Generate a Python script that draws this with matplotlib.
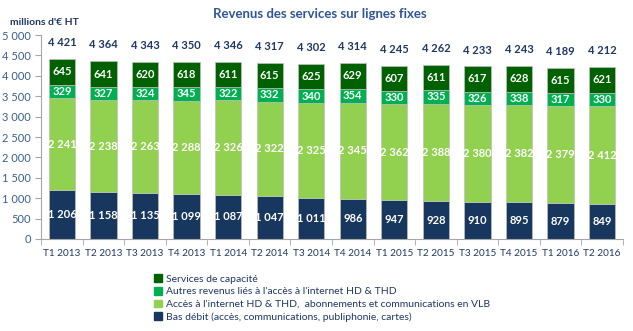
import numpy as np
import matplotlib.pyplot as plt
from matplotlib.patches import Patch

plt.rcParams['font.family'] = ['Lato', 'DejaVu Sans']

quarters = ['T1 2013', 'T2 2013', 'T3 2013', 'T4 2013', 'T1 2014', 'T2 2014',
            'T3 2014', 'T4 2014', 'T1 2015', 'T2 2015', 'T3 2015', 'T4 2015',
            'T1 2016', 'T2 2016']
bas_debit = [1206, 1158, 1135, 1099, 1087, 1047, 1011, 986, 947, 928, 910, 895, 879, 849]
internet_vlb = [2241, 2238, 2263, 2288, 2326, 2322, 2325, 2345, 2362, 2388, 2380, 2382, 2379, 2412]
autres = [329, 327, 324, 345, 322, 332, 340, 354, 330, 335, 326, 338, 317, 330]
capacite = [645, 641, 620, 618, 611, 615, 625, 629, 607, 611, 617, 628, 615, 621]
totals = [4421, 4364, 4343, 4350, 4346, 4317, 4302, 4314, 4245, 4262, 4233, 4243, 4189, 4212]

series = [
    (bas_debit, '#17375e', 'Bas débit (accès, communications, publiphonie, cartes)'),
    (internet_vlb, '#92d050', "Accès à l'internet HD & THD,  abonnements et communications en VLB"),
    (autres, '#00b050', "Autres revenus liés à l'accès à l'internet HD & THD"),
    (capacite, '#006100', 'Services de capacité'),
]

text_blue = '#1f3864'
axis_blue = '#3a5f8f'

fig = plt.figure(figsize=(6.33, 3.31), dpi=100)
ax = fig.add_axes([0.065, 0.278, 0.919, 0.616])

x = np.arange(len(quarters))
bottom = np.zeros(len(quarters))
handles = []
for vals, color, label in series:
    vals = np.array(vals)
    ax.bar(x, vals, 0.63, bottom=bottom, color=color, edgecolor='#bfbfbf', linewidth=0.5)
    for xi, b, v in zip(x, bottom, vals):
        ax.text(xi, b + v / 2, f'{v:,}'.replace(',', ' '), ha='center', va='center',
                color='white', fontsize=8, fontweight='bold')
    bottom += vals
    handles.append(Patch(color=color, label=label))

for xi, t in zip(x, totals):
    ax.text(xi, t + 400, f'{t:,}'.replace(',', ' '), ha='center', va='center',
            color=text_blue, fontsize=8, fontweight='bold')

ax.set_xlim(-0.5, len(quarters) - 0.5)
ax.set_ylim(0, 5000)
ax.set_yticks(np.arange(0, 5001, 500))
ax.set_yticklabels([f'{v:,}'.replace(',', ' ') for v in range(0, 5001, 500)])
ax.set_xticks(x)
ax.set_xticklabels(quarters)
ax.set_xticks(np.arange(-0.5, len(quarters)), minor=True)
ax.tick_params(axis='x', which='major', length=0, pad=7, labelsize=7.2, labelcolor=text_blue)
ax.tick_params(axis='x', which='minor', length=4, color='#a6a6a6', direction='out')
ax.tick_params(axis='y', length=4, color='#a6a6a6', labelsize=8, labelcolor=axis_blue)

for side in ['top', 'right']:
    ax.spines[side].set_visible(False)
ax.spines['left'].set_color('#a6a6a6')
ax.spines['bottom'].set_color('#a6a6a6')

fig.text(0.505, 0.958, 'Revenus des services sur lignes fixes', ha='center', va='center',
         color='#2f5597', fontsize=9.5, fontweight='bold')
fig.text(0.016, 0.932, "millions d'€ HT", ha='left', va='center',
         color=text_blue, fontsize=7.5, fontweight='bold')

fig.legend(handles=handles[::-1], loc='upper left', bbox_to_anchor=(0.243, 0.172),
           frameon=False, fontsize=7.5, handlelength=0.8, handleheight=0.8,
           handletextpad=0.4, labelspacing=0.3, borderaxespad=0, borderpad=0,
           labelcolor=text_blue)

fig.savefig('out.png', dpi=100)
